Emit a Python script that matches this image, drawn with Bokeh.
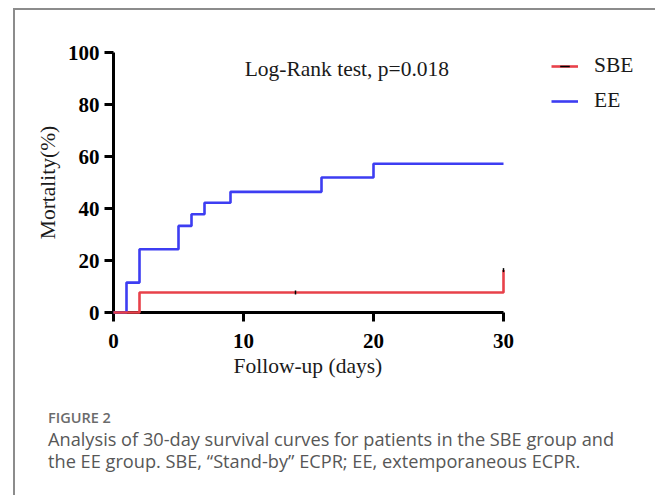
from bokeh.plotting import figure
from bokeh.models import (Range1d, FixedTicker, Legend, LegendItem, Label, Div,
                          Column, Title)
from bokeh.embed import file_html
from bokeh.resources import INLINE

# ---- data ----
ee_days = [0, 1, 2, 5, 6, 7, 9, 16, 20, 30]
ee_mortality = [0, 11.5, 24.3, 33.3, 37.8, 42.2, 46.4, 51.9, 57.2, 57.2]
sbe_days = [0, 2, 30]
sbe_mortality = [0, 7.7, 16.3]
sbe_censor_days = [14, 30]
sbe_censor_mortality = [7.7, 16.3]
x_ticks = [0, 10, 20, 30]
y_ticks = [0, 20, 40, 60, 80, 100]
x_axis_span = (0, 30)
y_axis_span = (0, 100)
x_title = "Follow-up (days)"
y_title = "Mortality(%)"
annotation_text = "Log-Rank test, p=0.018"
annotation_x = 17.95
annotation_y = 93.6

RED = "#e8414a"
BLUE = "#3d3df2"
SERIF = "Liberation Serif"

FIG_W, FIG_H = 640, 382
BORDER_L, BORDER_R, BORDER_T, BORDER_B = 98, 8, 42, 80
AXIS_PX = 390  # pixels used by the 0..30 day axis
frame_w = FIG_W - BORDER_L - BORDER_R
x_end = x_axis_span[1] * frame_w / AXIS_PX  # frame extends right to hold legend

p = figure(width=FIG_W, height=FIG_H, output_backend="svg", toolbar_location=None,
           x_range=Range1d(x_axis_span[0], x_end),
           y_range=Range1d(*y_axis_span),
           min_border_left=BORDER_L, min_border_right=BORDER_R,
           min_border_top=BORDER_T, min_border_bottom=BORDER_B)
p.outline_line_color = None
p.xgrid.visible = False
p.ygrid.visible = False
p.background_fill_color = "white"
p.border_fill_color = "white"

for ax, ticks in ((p.xaxis[0], x_ticks), (p.yaxis[0], y_ticks)):
    ax.ticker = FixedTicker(ticks=ticks)
    ax.axis_line_width = 3
    ax.axis_line_color = "black"
    ax.major_tick_line_width = 3
    ax.major_tick_line_color = "black"
    ax.major_tick_in = 0
    ax.major_tick_out = 9
    ax.minor_tick_line_color = None
    ax.major_label_text_font = SERIF
    ax.major_label_text_font_style = "bold"
    ax.major_label_text_font_size = "21px"
    ax.major_label_text_color = "black"
    ax.axis_label_text_font = SERIF
    ax.axis_label_text_font_style = "normal"
    ax.axis_label_text_font_size = "21.5px"
    ax.axis_label_text_color = "#1a1a1a"

p.xaxis.bounds = x_axis_span
p.yaxis.bounds = y_axis_span
p.yaxis.axis_label = y_title
p.xaxis.major_label_standoff = 12
p.yaxis.major_label_standoff = 5
p.yaxis.axis_label_standoff = 5

# x title centred under the 0..30 axis (the frame itself is wider)
p.add_layout(Title(text=x_title, align="left", offset=120, standoff=2,
                   text_font=SERIF, text_font_style="normal",
                   text_font_size="21.5px", text_color="#1a1a1a"), "below")

ee_line = p.step(ee_days, ee_mortality, mode="after", line_color=BLUE,
                 line_width=2.6, level="overlay")
sbe_line = p.step(sbe_days, sbe_mortality, mode="after", line_color=RED,
                  line_width=2.6, level="overlay")
sbe_cens = p.scatter(sbe_censor_days, sbe_censor_mortality, marker="dash",
                     angle=1.5708, size=4, line_color="black", line_width=1.5,
                     level="overlay")

p.add_layout(Label(x=annotation_x, y=annotation_y, text=annotation_text,
                   text_align="center", text_baseline="middle",
                   text_font=SERIF, text_font_size="21.5px",
                   text_color="#1a1a1a"))

legend = Legend(items=[LegendItem(label="SBE", renderers=[sbe_line, sbe_cens]),
                       LegendItem(label="EE", renderers=[ee_line])],
                location=(438, 199), padding=0, margin=0, spacing=10,
                glyph_width=27, glyph_height=24, label_height=24,
                label_standoff=16, border_line_color=None,
                background_fill_alpha=0,
                label_text_font=SERIF, label_text_font_size="21.5px",
                label_text_color="#1a1a1a")
p.add_layout(legend, "center")

caption = Div(width=640, height=102, text=(
    "<div style='padding:11px 0 0 28px;font-family:\"Open Sans\",sans-serif;'>"
    "<div style='font-size:14.5px;font-weight:600;line-height:20px;color:#6b6b6b;'>FIGURE 2</div>"
    "<div style='font-size:18.2px;line-height:22px;color:#575757;'>"
    "Analysis of 30-day survival curves for patients in the SBE group and<br>"
    "the EE group. SBE, \u201cStand-by\u201d ECPR; EE, extemporaneous ECPR."
    "</div></div>"))

layout = Column(children=[p, caption], spacing=0,
                styles={"border-left": "2px solid #8c8c8c",
                        "border-top": "2px solid #8c8c8c",
                        "margin": "8px 0 0 13px",
                        "background": "white"})

open("out.html", "w").write(file_html(layout, INLINE))
